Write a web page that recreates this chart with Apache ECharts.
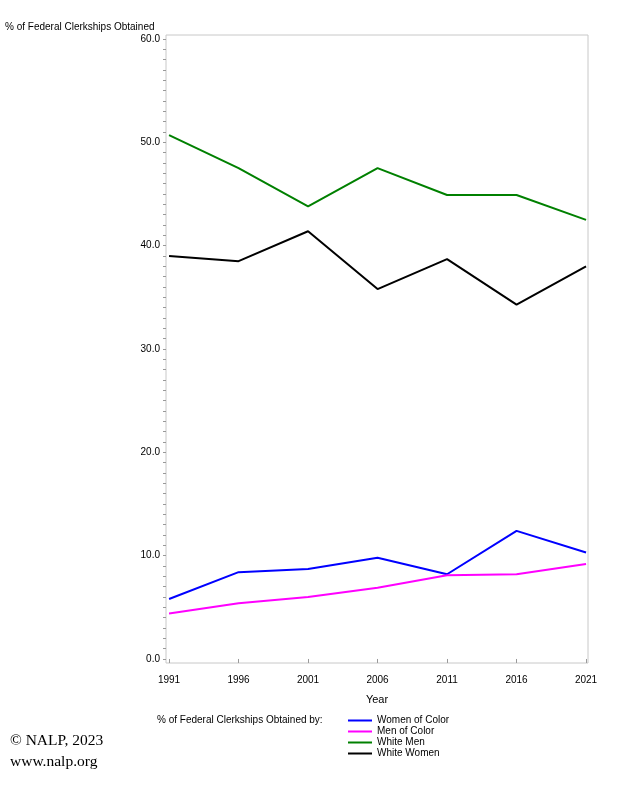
<!DOCTYPE html>
<html>
<head>
<meta charset="utf-8">
<script src="https://cdn.jsdelivr.net/npm/echarts@6/dist/echarts.min.js"></script>
<style>
html,body{margin:0;padding:0;background:#fff;}
#c{width:625px;height:792px;}
</style>
</head>
<body>
<div id="c"></div>
<script>
const years = [1991, 1996, 2001, 2006, 2011, 2016, 2021];
const womenOfColor = [5.8, 8.4, 8.7, 9.8, 8.2, 12.4, 10.3];
const menOfColor = [4.4, 5.4, 6.0, 6.9, 8.1, 8.2, 9.2];
const whiteMen = [50.7, 47.5, 43.8, 47.5, 44.9, 44.9, 42.5];
const whiteWomen = [39.0, 38.5, 41.4, 35.8, 38.7, 34.3, 38.0];
const yTickLabels = [0, 10, 20, 30, 40, 50, 60];
const yMinorTicks = [];
for (let v = 0; v <= 60; v++) yMinorTicks.push(v);

const seriesNames = ['Women of Color', 'Men of Color', 'White Men', 'White Women'];
const seriesData = [womenOfColor, menOfColor, whiteMen, whiteWomen];
const seriesColors = ['#0000ff', '#ff00ff', '#008000', '#000000'];

const font = 'Liberation Sans, Arial, sans-serif';
const serif = 'Liberation Serif, Times New Roman, serif';
const chart = echarts.init(document.getElementById('c'), null, {renderer: 'canvas'});

chart.setOption({
  animation: false,
  backgroundColor: '#fff',
  title: [
    {text: '% of Federal Clerkships Obtained', left: 5, top: 22, padding: 0,
     textStyle: {fontFamily: font, fontSize: 10, fontWeight: 'normal', color: '#000'}},
    {text: '% of Federal Clerkships Obtained by:', left: 157, top: 715, padding: 0,
     textStyle: {fontFamily: font, fontSize: 10, fontWeight: 'normal', color: '#000'}},
    {text: '© NALP, 2023', left: 10, top: 733, padding: 0,
     textStyle: {fontFamily: serif, fontSize: 15.5, fontWeight: 'normal', color: '#000'}},
    {text: 'www.nalp.org', left: 10, top: 754, padding: 0,
     textStyle: {fontFamily: serif, fontSize: 15.5, fontWeight: 'normal', color: '#000'}}
  ],
  legend: {
    orient: 'vertical',
    left: 348, top: 715, padding: 0,
    itemWidth: 24, itemHeight: 2,
    itemGap: 0,
    icon: 'rect',
    data: seriesNames,
    textStyle: {fontFamily: font, fontSize: 10, color: '#000', lineHeight: 11},
    selectedMode: false
  },
  grid: {
    left: 166, right: 37, top: 35, bottom: 129,
    show: true, borderColor: '#c8c8c8', borderWidth: 1, containLabel: false
  },
  xAxis: {
    type: 'value',
    min: 1990.78, max: 2021.14,
    name: 'Year', nameLocation: 'middle', nameGap: 31,
    nameTextStyle: {fontFamily: font, fontSize: 11, color: '#000'},
    axisLine: {show: false},
    splitLine: {show: false},
    axisTick: {show: true, customValues: years, length: 4, lineStyle: {color: '#999'}},
    axisLabel: {customValues: years, fontFamily: font, fontSize: 10, color: '#000', margin: 12,
      formatter: v => String(v)}
  },
  yAxis: {
    type: 'value',
    min: -0.39, max: 60.39,
    axisLine: {show: false},
    splitLine: {show: false},
    axisTick: {show: true, customValues: yMinorTicks, length: 3, lineStyle: {color: '#999'}},
    axisLabel: {customValues: yTickLabels, fontFamily: font, fontSize: 10, color: '#000', margin: 6,
      formatter: v => v.toFixed(1)}
  },
  series: seriesNames.map((n, i) => ({
    name: n, type: 'line',
    data: years.map((y, j) => [y, seriesData[i][j]]),
    showSymbol: false, symbol: 'none',
    lineStyle: {width: 2, color: seriesColors[i]},
    itemStyle: {color: seriesColors[i]}
  }))
});
</script>
</body>
</html>
